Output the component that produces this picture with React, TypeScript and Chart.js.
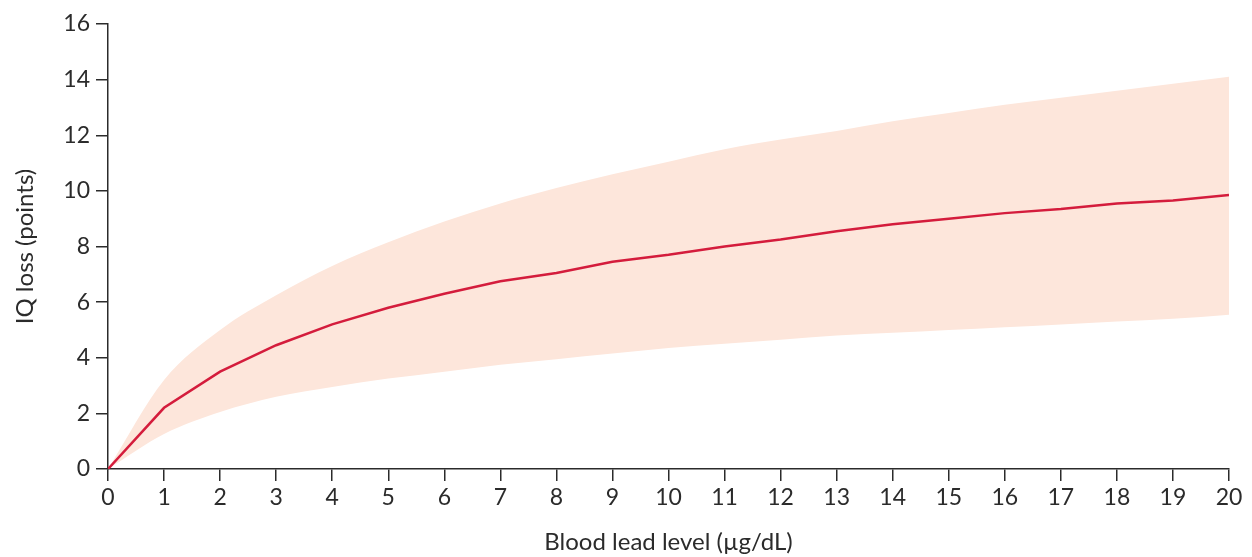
import React, { useEffect, useRef } from "react";
import { Chart, registerables } from "chart.js";

Chart.register(...registerables);

const leadLevels = [0, 1, 2, 3, 4, 5, 6, 7, 8, 9, 10, 11, 12, 13, 14, 15, 16, 17, 18, 19, 20];
const iqLoss = [0, 2.2, 3.5, 4.45, 5.2, 5.8, 6.3, 6.75, 7.05, 7.45, 7.7, 8.0, 8.25, 8.55, 8.8, 9.0, 9.2, 9.35, 9.55, 9.65, 9.85];
const upperBound = [0, 3.2, 5.0, 6.25, 7.3, 8.15, 8.9, 9.55, 10.1, 10.6, 11.05, 11.5, 11.85, 12.15, 12.5, 12.8, 13.1, 13.35, 13.6, 13.85, 14.1];
const lowerBound = [0, 1.26, 2.05, 2.6, 2.95, 3.25, 3.5, 3.75, 3.95, 4.15, 4.35, 4.5, 4.65, 4.8, 4.9, 5.0, 5.1, 5.2, 5.3, 5.4, 5.55];
const yTicks = [0, 2, 4, 6, 8, 10, 12, 14, 16];

const toPoints = (ys: number[]) => leadLevels.map((x, i) => ({ x, y: ys[i] }));

export default function App() {
  const ref = useRef<HTMLCanvasElement>(null);
  useEffect(() => {
    document.body.style.margin = "0";
    const canvas = ref.current!;
    const axisColor = "#2b2b2b";
    const font = { family: "Lato", size: 23 };
    const titleFont = { family: "Lato", size: 24 };
    const chart = new Chart(canvas, {
      type: "line",
      data: {
        datasets: [
          {
            data: toPoints(iqLoss),
            borderColor: "#d41c3c",
            borderWidth: 2.5,
            pointRadius: 0,
            tension: 0,
            fill: false,
            order: 0,
          },
          {
            data: toPoints(upperBound),
            borderWidth: 0,
            borderColor: "rgba(0,0,0,0)",
            backgroundColor: "#fde6db",
            pointRadius: 0,
            cubicInterpolationMode: "monotone",
            fill: "+1",
            order: 1,
          },
          {
            data: toPoints(lowerBound),
            borderWidth: 0,
            borderColor: "rgba(0,0,0,0)",
            pointRadius: 0,
            cubicInterpolationMode: "monotone",
            fill: false,
            order: 2,
          },
        ],
      },
      options: {
        animation: false,
        responsive: false,
        layout: { padding: { left: 0, right: 23, top: 24, bottom: 0 } },
        plugins: { legend: { display: false }, tooltip: { enabled: false } },
        scales: {
          x: {
            type: "linear",
            min: 0,
            max: 20,
            afterFit: (s: any) => { s.height = 557 - 24 - 445; },
            ticks: { stepSize: 1, color: axisColor, font, padding: 3, maxRotation: 0, autoSkip: false },
            grid: { drawOnChartArea: false, drawTicks: true, tickLength: 12, color: axisColor, lineWidth: 1.5 },
            border: { display: true, color: axisColor, width: 1.5 },
            title: { display: true, text: "Blood lead level (µg/dL)", color: axisColor, font: titleFont, padding: { top: 10, bottom: 0 } },
          },
          y: {
            min: 0,
            max: 16,
            afterFit: (s: any) => { s.width = 108; },
            afterBuildTicks: (s: any) => { s.ticks = yTicks.map((v) => ({ value: v })); },
            ticks: { color: axisColor, font, padding: 6 },
            grid: { drawOnChartArea: false, drawTicks: true, tickLength: 12, color: axisColor, lineWidth: 1.5 },
            border: { display: true, color: axisColor, width: 1.5 },
            title: { display: true, text: "IQ loss (points)", color: axisColor, font: titleFont, padding: { top: 11, bottom: 0 } },
          },
        },
      },
    });
    return () => chart.destroy();
  }, []);
  return <canvas ref={ref} width={1252} height={557} style={{ display: "block" }} />;
}
